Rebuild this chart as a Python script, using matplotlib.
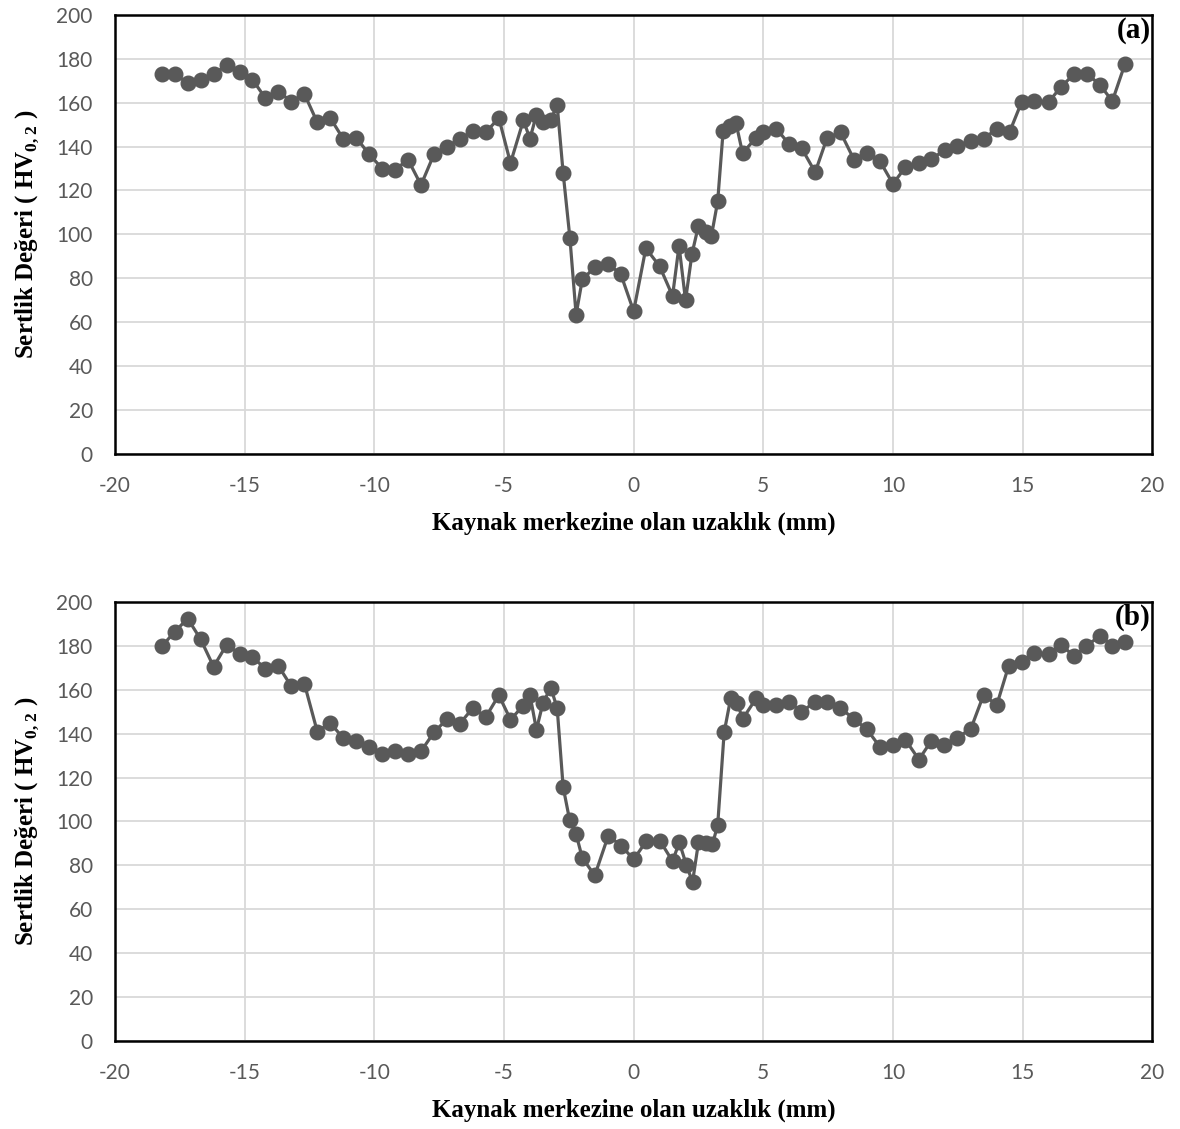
import matplotlib
matplotlib.use('Agg')
import matplotlib.pyplot as plt

# hardness profile (a)
xa = [-18.2, -17.7, -17.2, -16.7, -16.2, -15.7, -15.2, -14.7, -14.2, -13.7,
      -13.2, -12.7, -12.2, -11.7, -11.2, -10.7, -10.2, -9.7, -9.2, -8.7,
      -8.2, -7.7, -7.2, -6.7, -6.2, -5.7, -5.2, -4.75, -4.25, -4.0,
      -3.75, -3.5, -3.2, -2.95, -2.72, -2.46, -2.22, -1.98, -1.5, -1.0,
      -0.5, 0.0, 0.47, 1.0, 1.5, 1.75, 2.0, 2.25, 2.5, 2.78,
      3.0, 3.24, 3.45, 3.7, 3.95, 4.2, 4.72, 5.0, 5.5, 6.0,
      6.48, 7.0, 7.46, 7.98, 8.5, 9.0, 9.5, 10.0, 10.48, 11.0,
      11.48, 12.0, 12.48, 13.0, 13.5, 14.0, 14.5, 14.96, 15.45, 16.0,
      16.48, 17.0, 17.5, 18.0, 18.46, 18.95]
ya = [173, 173, 169, 170.5, 173, 177, 174, 170.5, 162, 165,
      160.5, 164, 151, 153, 143.5, 144, 136.5, 130, 129.5, 134,
      122.5, 136.5, 140, 143.5, 147, 146.5, 153, 132.5, 152, 143.5,
      154.5, 151, 152, 159, 128, 98.5, 63.5, 79.5, 85, 86.7,
      82, 65, 93.7, 85.5, 72, 94.8, 70, 91.2, 104, 101.2,
      99.4, 115, 147, 149.5, 150.5, 137, 144, 146.5, 148.2, 141,
      139.2, 128.3, 144, 146.4, 134, 137, 133.3, 123, 130.6, 132.5,
      134.3, 138.4, 140.4, 142.6, 143.4, 148.2, 146.7, 160.2, 160.7, 160.2,
      167.2, 173.1, 173.1, 167.8, 160.7, 177.7]

# hardness profile (b)
xb = [-18.2, -17.7, -17.2, -16.7, -16.2, -15.7, -15.2, -14.7, -14.2, -13.7,
      -13.2, -12.7, -12.2, -11.7, -11.2, -10.7, -10.2, -9.7, -9.2, -8.7,
      -8.2, -7.7, -7.2, -6.7, -6.2, -5.7, -5.2, -4.75, -4.25, -4.0,
      -3.75, -3.5, -3.2, -2.95, -2.72, -2.47, -2.22, -1.98, -1.5, -0.98,
      -0.48, 0.0, 0.48, 1.03, 1.5, 1.76, 2.03, 2.27, 2.5, 2.78,
      3.04, 3.24, 3.49, 3.74, 4.0, 4.2, 4.72, 4.97, 5.48, 6.0,
      6.47, 6.98, 7.46, 7.97, 8.5, 9.0, 9.5, 10.0, 10.48, 11.0,
      11.48, 11.96, 12.48, 13.0, 13.5, 14.0, 14.46, 14.96, 15.45, 16.0,
      16.48, 17.0, 17.46, 18.0, 18.46, 18.95]
yb = [179.7, 186.4, 192.4, 183, 170.5, 180.4, 176.4, 174.8, 169.6, 170.8,
      161.5, 162.8, 140.9, 144.9, 137.9, 136.7, 133.9, 130.9, 132.3, 130.9,
      132, 140.6, 146.6, 144.6, 151.7, 147.6, 157.5, 146.4, 152.8, 157.7,
      141.8, 153.8, 161, 151.7, 115.7, 100.7, 94.2, 83.4, 75.4, 93.5,
      89, 82.7, 90.9, 90.9, 81.9, 90.5, 80.3, 72.4, 90.5, 90,
      89.7, 98.3, 140.6, 156, 154, 146.6, 156, 152.9, 152.9, 154.6,
      149.9, 154.3, 154.6, 151.7, 146.6, 141.9, 133.9, 134.9, 137.2, 128.2,
      136.7, 134.9, 138.2, 142.1, 157.8, 152.9, 170.8, 172.7, 176.7, 176.4,
      180.4, 175.2, 180, 184.6, 180, 181.6]

x_ticks = [-20, -15, -10, -5, 0, 5, 10, 15, 20]
y_ticks = [0, 20, 40, 60, 80, 100, 120, 140, 160, 180, 200]

plt.rcParams['axes.unicode_minus'] = False
plt.rcParams['mathtext.fontset'] = 'custom'
plt.rcParams['mathtext.rm'] = 'Liberation Serif:bold'
plt.rcParams['mathtext.bf'] = 'Liberation Serif:bold'

fig = plt.figure(figsize=(11.8, 11.29), dpi=100)

panels = [(xa, ya, '(a)', 0.5979), (xb, yb, '(b)', 0.0779)]
for xs, ys, tag, bottom in panels:
    ax = fig.add_axes([0.0975, bottom, 0.879, 0.389])
    ax.plot(xs, ys, color='#595959', lw=2.3, marker='o', ms=10.5,
            markerfacecolor='#595959', markeredgecolor='#595959')
    ax.set_xlim(-20, 20)
    ax.set_ylim(0, 200)
    ax.set_xticks(x_ticks)
    ax.set_yticks(y_ticks)
    ax.grid(True, color='#d9d9d9', lw=1.3)
    ax.set_axisbelow(True)
    for s in ax.spines.values():
        s.set_color('black')
        s.set_linewidth(1.8)
    ax.tick_params(length=0, labelsize=15, labelcolor='#595959', pad=16)
    for lab in ax.get_xticklabels() + ax.get_yticklabels():
        lab.set_family('Lato')
    ax.set_xlabel('Kaynak merkezine olan uzaklık (mm)', family='Liberation Serif',
                  fontweight='bold', fontsize=18, labelpad=11)
    ax.set_ylabel('Sertlik Değeri ( HV$_{0,2}$ )', family='Liberation Serif',
                  fontweight='bold', fontsize=18, labelpad=11)
    ax.text(0.9985, 0.995, tag, transform=ax.transAxes, ha='right', va='top',
            family='Liberation Serif', fontweight='bold', fontsize=21)

fig.savefig('out.png', dpi=100)
